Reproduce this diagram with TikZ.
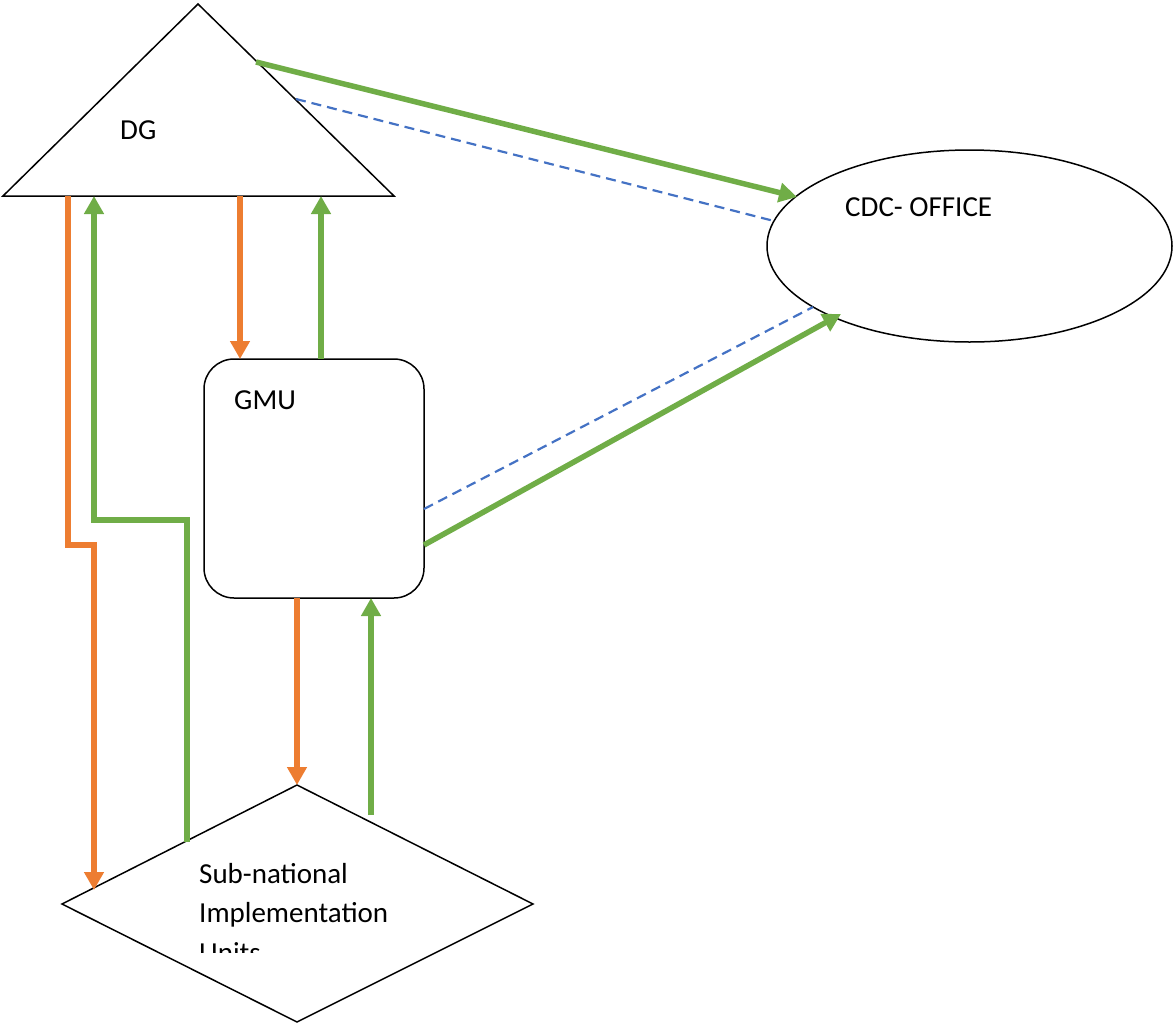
\documentclass[tikz,border=0pt]{standalone}
\usepackage{fontspec}
\setmainfont{Carlito}
\usetikzlibrary{arrows.meta,shapes.geometric}
\definecolor{cgreen}{HTML}{70AD47}
\definecolor{corange}{HTML}{ED7D31}
\definecolor{cblue}{HTML}{4472C4}
\begin{document}
\begin{tikzpicture}[x=1pt,y=-1pt,
  shapeline/.style={draw=black,line width=1.5pt,line join=miter},
  lbl/.style={anchor=base west,inner sep=0pt,font=\fontsize{29}{40}\selectfont},
  greenarrow/.style={draw=cgreen,line width=5.5pt,-{Triangle[length=18pt,width=19pt]}},
  orangearrow/.style={draw=corange,line width=5.5pt,-{Triangle[length=18pt,width=19pt]}},
  bluedash/.style={draw=cblue,line width=2.2pt,dash pattern=on 10pt off 6pt}]
\useasboundingbox (0,0) rectangle (1173,1023);
% shapes
\draw[shapeline] (198,4) -- (394,196) -- (3,196) -- cycle;
\node[draw=black,line width=1.5pt,ellipse,minimum width=405pt,minimum height=192pt,inner sep=0pt] (cdc) at (969.5,246) {};
\node[draw=black,line width=1.5pt,rectangle,rounded corners=30pt,minimum width=220pt,minimum height=239pt,inner sep=0pt] (gmu) at (314,478.5) {};
\draw[shapeline] (297,785) -- (533,904) -- (297,1022) -- (62,904) -- cycle;
% labels
\node[lbl] (dgt) at (120,139) {DG};
\node[lbl] (cdct) at (845,216) {CDC- OFFICE};
\node[lbl] (gmut) at (234,409) {GMU};
\begin{scope}
\clip (150,840) rectangle (450,952);
\node[lbl] (subt1) at (199,883) {Sub-national};
\node[lbl] (subt2) at (199,922) {Implementation};
\node[lbl] (subt3) at (199,962) {Units};
\end{scope}
% connector endpoints
\coordinate (a1) at (68,196);
\coordinate (a1b) at (68,545);
\coordinate (a1c) at (94,545);
\coordinate (a1e) at (94,890);
\coordinate (b1) at (187,842);
\coordinate (b1b) at (187,520);
\coordinate (b1c) at (94,520);
\coordinate (b1e) at (94,196);
\coordinate (c1) at (240,196);
\coordinate (c1e) at (240,359);
\coordinate (d1) at (321,359);
\coordinate (d1e) at (321,196);
\coordinate (e1) at (297,598);
\coordinate (e1e) at (297,785);
\coordinate (f1) at (371,815);
\coordinate (f1e) at (371,598);
\coordinate (g1) at (256,62);
\coordinate (g1e) at (797,197);
\coordinate (h1) at (296,99);
\coordinate (h1e) at (774,221);
\coordinate (i1) at (424,509);
\coordinate (i1e) at (813,307);
\coordinate (j1) at (424,545);
\coordinate (j1e) at (841,314);
% connectors
\draw[orangearrow] (a1) -- (a1b) -- (a1c) -- (a1e);
\draw[greenarrow] (b1) -- (b1b) -- (b1c) -- (b1e);
\draw[orangearrow] (c1) -- (c1e);
\draw[greenarrow] (d1) -- (d1e);
\draw[orangearrow] (e1) -- (e1e);
\draw[greenarrow] (f1) -- (f1e);
\draw[greenarrow] (g1) -- (g1e);
\draw[bluedash] (h1) -- (h1e);
\draw[bluedash] (i1) -- (i1e);
\draw[greenarrow] (j1) -- (j1e);
\end{tikzpicture}
\end{document}
